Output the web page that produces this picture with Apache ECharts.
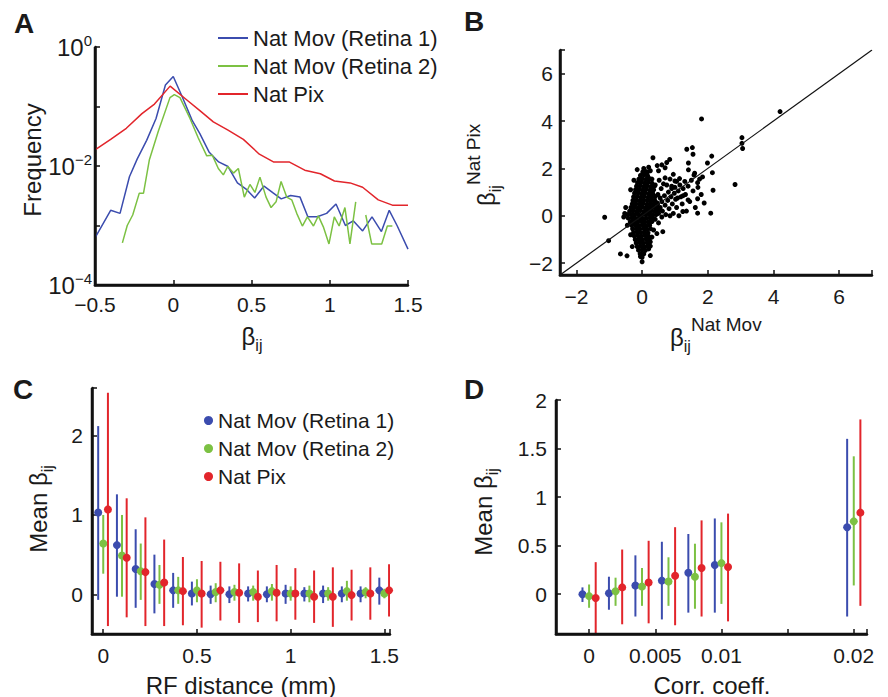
<!DOCTYPE html>
<html><head><meta charset="utf-8">
<script src="https://cdn.jsdelivr.net/npm/echarts@6/dist/echarts.min.js"></script>
<style>html,body{margin:0;padding:0;background:#fff}#c{width:888px;height:697px}</style>
</head><body><div id="c"></div>
<script>
// ---------- Panel A: histogram of beta_ij (log frequency) ----------
const aR1Beta = [-0.5,-0.40,-0.34,-0.28,-0.23,-0.17,-0.11,-0.05,0.0,0.06,0.12,0.17,0.23,0.29,0.35,0.41,0.47,0.52,0.58,0.64,0.69,0.75,0.81,0.86,0.92,0.98,1.04,1.10,1.15,1.21,1.27,1.33,1.38,1.43,1.5];
const aR1Freq = [6.2e-4,1.8e-3,1.6e-3,6.6e-3,1.32e-2,2.7e-2,6.3e-2,0.23,0.32,0.14,0.059,0.035,0.017,0.0117,0.0098,0.0052,0.0040,0.0029,0.0046,0.0035,0.0028,0.0032,0.0030,0.0014,0.0014,0.0016,0.0023,0.0010,0.0012,0.00081,0.0014,0.00079,0.0018,0.0010,0.00040];
const aR2Beta = [-0.325,-0.294,-0.259,-0.217,-0.19,-0.153,-0.096,-0.021,0.007,0.043,0.107,0.16,0.214,0.25,0.288,0.32,0.348,0.385,0.416,0.454,0.49,0.522,0.554,0.593,0.625,0.657,0.689,0.725,0.757,0.789,0.825,0.857,0.896,0.927,0.959,0.995,1.029,1.06,1.097,1.129,1.166,1.2,1.23,1.268,1.332,1.368,1.40];
const aR2Freq = [5.1e-4,1.0e-3,1.5e-3,3.5e-3,3.5e-3,0.0126,0.038,0.141,0.158,0.141,0.063,0.0295,0.0148,0.0151,0.0091,0.0071,0.0098,0.0076,0.0091,0.0030,0.0049,0.0036,0.0065,0.0030,0.0020,0.0025,0.0055,0.0030,0.0027,0.0016,0.00098,0.0014,0.00098,0.00145,0.00095,0.00049,0.0014,0.00098,0.0020,0.00049,0.0025,null,0.0015,0.00049,0.00049,0.00098,0.00098];
const aPixBeta = [-0.5,-0.4,-0.3,-0.2,-0.12,-0.02,0.085,0.17,0.256,0.35,0.448,0.55,0.64,0.74,0.84,0.94,1.03,1.13,1.21,1.31,1.40,1.5];
const aPixFreq = [0.0186,0.028,0.043,0.076,0.11,0.22,0.13,0.085,0.055,0.04,0.028,0.0158,0.0117,0.0117,0.0085,0.0074,0.0056,0.0052,0.0044,0.0027,0.0022,0.0022];
const aYLabelExponents = [-4,-2,0];

// ---------- Panel B: beta Nat Pix vs beta Nat Mov ----------
const bTicks = [-2,0,2,4,6];
const bIdentity = [-2.5,7];
const bPairs = [
[0.02,1.85],[0.12,1.86],[-0.05,1.7],[0.06,1.72],[0.17,1.68],
[-0.1,1.55],[0.01,1.56],[0.12,1.54],[0.23,1.57],
[-0.14,1.4],[-0.03,1.41],[0.08,1.39],[0.19,1.42],[0.3,1.38],
[-0.17,1.25],[-0.06,1.26],[0.05,1.24],[0.16,1.27],[0.27,1.23],[0.38,1.26],
[-0.2,1.1],[-0.09,1.11],[0.02,1.09],[0.13,1.12],[0.24,1.08],[0.35,1.1],
[-0.23,0.95],[-0.12,0.96],[-0.01,0.94],[0.1,0.97],[0.21,0.93],[0.32,0.95],
[-0.26,0.8],[-0.15,0.81],[-0.04,0.79],[0.07,0.82],[0.18,0.78],[0.29,0.8],[0.4,0.81],
[-0.28,0.65],[-0.17,0.66],[-0.06,0.64],[0.05,0.67],[0.16,0.63],[0.27,0.65],[0.38,0.66],
[-0.3,0.5],[-0.19,0.51],[-0.08,0.49],[0.03,0.52],[0.14,0.48],[0.25,0.5],[0.36,0.51],[0.47,0.49],
[-0.34,0.35],[-0.23,0.36],[-0.12,0.34],[-0.01,0.37],[0.1,0.33],[0.21,0.35],[0.32,0.36],[0.43,0.34],
[-0.38,0.2],[-0.27,0.21],[-0.16,0.19],[-0.05,0.22],[0.06,0.18],[0.17,0.2],[0.28,0.21],[0.39,0.19],[0.5,0.2],
[-0.45,0.05],[-0.34,0.06],[-0.23,0.04],[-0.12,0.07],[-0.01,0.03],[0.1,0.05],[0.21,0.06],[0.32,0.04],[0.43,0.05],
[-0.42,-0.1],[-0.31,-0.09],[-0.2,-0.11],[-0.09,-0.08],[0.02,-0.12],[0.13,-0.1],[0.24,-0.09],[0.35,-0.11],
[-0.36,-0.25],[-0.25,-0.24],[-0.14,-0.26],[-0.03,-0.23],[0.08,-0.27],[0.19,-0.25],[0.3,-0.24],
[-0.32,-0.4],[-0.21,-0.39],[-0.1,-0.41],[0.01,-0.38],[0.12,-0.42],[0.23,-0.4],
[-0.29,-0.55],[-0.18,-0.54],[-0.07,-0.56],[0.04,-0.53],[0.15,-0.57],[0.26,-0.55],
[-0.26,-0.7],[-0.15,-0.69],[-0.04,-0.71],[0.07,-0.68],[0.18,-0.72],
[-0.24,-0.85],[-0.13,-0.84],[-0.02,-0.86],[0.09,-0.83],[0.2,-0.87],
[-0.21,-1.0],[-0.1,-0.99],[0.01,-1.01],[0.12,-0.98],[0.22,-1.02],
[-0.18,-1.15],[-0.07,-1.14],[0.04,-1.16],[0.15,-1.13],
[-0.15,-1.3],[-0.04,-1.29],[0.07,-1.31],[0.17,-1.28],
[-0.11,-1.45],[0.0,-1.44],[0.1,-1.46],[-0.06,-1.6],[0.05,-1.61],[0.0,-1.75],
[0.5,0.1],[0.55,0.35],[0.6,0.6],[0.62,0.2],[0.68,0.85],[0.7,0.45],[0.72,0.05],[0.78,0.65],[0.8,1.0],[0.82,0.3],
[0.88,0.8],[0.9,1.15],[0.92,0.5],[0.95,0.1],[0.98,0.95],[1.0,1.2],[1.02,0.7],[1.05,0.35],[1.1,1.05],[1.12,0.0],
[1.15,1.3],[1.18,0.8],[1.22,0.5],[1.25,1.15],[1.3,1.45],[1.32,0.9],[1.35,0.2],[1.4,1.25],[1.45,0.6],[1.5,1.5],
[1.55,1.05],[1.6,1.8],[1.62,0.35],[1.7,1.2],[1.75,1.55],[1.8,0.9],[0.45,0.55],[0.48,0.9],[0.4,1.3],[0.52,1.5],
[0.58,1.15],[0.65,1.35],[0.7,1.6],[0.75,1.3],[0.85,1.55],[0.95,1.75],[1.05,1.45],[0.4,-0.15],[0.5,-0.3],[0.6,-0.05],
[0.85,0.0],[1.25,0.85],[0.35,0.85],[0.42,0.3],[0.55,0.75],[0.3,1.55],[0.25,1.9],[0.2,2.05],[0.5,1.9],[0.6,2.15],
[0.75,2.25],[0.3,-0.9],[0.35,-0.6],[0.45,-0.75],[0.2,-1.4],[0.25,-1.1],[-0.3,-1.3],[-0.35,-0.8],[-0.45,-0.4],[-0.5,0.35],
[-0.35,1.1],[-0.25,1.5],[-0.15,1.95],[0.05,2.0],[0.12,1.85],
[4.54,7.03],[1.81,4.09],[4.2,4.4],[3.04,3.3],[3.04,3.06],[3.06,2.84],[2.83,1.32],[-1.14,-0.06],[-1.02,-1.05],
[2.14,1.82],[2.12,2.52],[1.99,2.23],[2.16,1.08],[2.09,0.11],[1.89,0.54],[1.84,1.64],[1.69,1.4],[1.53,2.88],[1.55,2.6],
[1.36,2.81],[1.41,2.23],[1.41,1.94],[1.58,1.72],[1.69,0.72],[1.69,0.11],[1.24,0.18],[1.4,0.67],[1.08,0.75],[0.84,2.38],
[0.7,2.03],[1.14,1.57],[1.0,1.47],[0.9,1.25],[0.33,2.45],[0.46,2.12],[0.15,1.8],[0.63,-0.67],[0.25,-1.28],[0.0,-1.94],
[-0.05,-1.72],[-0.46,-1.69],[-0.66,-1.61],[0.25,-1.68],[-0.53,0.1],[-0.56,-0.05]
];

// ---------- Panel C: mean beta vs RF distance ----------
const cDist = [0,0.1,0.2,0.3,0.4,0.5,0.6,0.7,0.8,0.9,1.0,1.1,1.2,1.3,1.4,1.5];
const cR1Mean = [1.03,0.62,0.32,0.13,0.05,0.01,0.0,0.0,0.01,0.0,0.01,0.01,0.01,0.01,0.01,0.05];
const cR1Low  = [-0.07,-0.03,-0.17,-0.24,-0.17,-0.14,-0.12,-0.11,-0.09,-0.10,-0.12,-0.09,-0.11,-0.10,-0.10,-0.13];
const cR1High = [2.12,1.26,0.82,0.50,0.27,0.16,0.11,0.10,0.10,0.10,0.12,0.09,0.11,0.10,0.10,0.21];
const cR2Mean = [0.64,0.49,0.29,0.12,0.05,0.05,0.03,0.03,0.03,0.04,0.01,0.01,0.01,0.04,0.03,0.01];
const cR2Low  = [0.26,-0.03,-0.07,-0.12,-0.12,-0.10,-0.10,-0.08,-0.08,-0.08,-0.08,-0.10,-0.08,-0.08,-0.05,-0.05];
const cR2High = [1.0,1.0,0.64,0.37,0.22,0.19,0.14,0.12,0.11,0.13,0.10,0.11,0.09,0.17,0.09,0.07];
const cPixMean = [1.07,0.46,0.28,0.15,0.04,0.01,0.05,0.02,-0.03,0.02,0.01,-0.03,-0.03,-0.01,0.01,0.05];
const cPixLow  = [-0.40,-0.29,-0.40,-0.40,-0.39,-0.42,-0.33,-0.36,-0.35,-0.34,-0.32,-0.36,-0.41,-0.33,-0.32,-0.28];
const cPixHigh = [2.54,1.21,0.97,0.69,0.47,0.42,0.41,0.39,0.30,0.37,0.33,0.30,0.34,0.31,0.34,0.38];
const cXTicks = [0,0.5,1,1.5];
const cYTicks = [0,1,2];

// ---------- Panel D: mean beta vs correlation coefficient ----------
const dCorr = [0,0.002,0.004,0.006,0.008,0.01,0.02];
const dR1Mean = [0.0,0.01,0.09,0.14,0.22,0.30,0.69];
const dR1Low  = [-0.08,-0.16,-0.23,-0.26,-0.19,-0.19,-0.23];
const dR1High = [0.07,0.18,0.40,0.54,0.62,0.78,1.60];
const dR2Mean = [-0.02,0.03,0.08,0.13,0.18,0.32,0.75];
const dR2Low  = [-0.14,-0.12,-0.12,-0.12,-0.15,-0.10,0.09];
const dR2High = [0.10,0.17,0.27,0.38,0.52,0.74,1.42];
const dPixMean = [-0.04,0.07,0.12,0.19,0.27,0.28,0.84];
const dPixLow  = [-0.45,-0.31,-0.30,-0.32,-0.23,-0.28,-0.12];
const dPixHigh = [0.33,0.46,0.55,0.69,0.76,0.83,1.80];
const dXTicks = [0,0.005,0.01,0.02];

const seriesNames = ['Nat Mov (Retina 1)','Nat Mov (Retina 2)','Nat Pix'];

// ---------- styling ----------
const FONT = "'Liberation Sans', Arial, Helvetica, sans-serif";
const TXT = '#1a1a1a';
const BLUE = '#3b4cae', GREEN = '#7cc143', RED = '#e2252b';

const zip = (a, b) => a.map((v, i) => [v, b[i]]);
const fmtNum = v => String(+(+v).toPrecision(6)).replace('-', '\u2212');

function axis(o) {
  const a = {
    gridIndex: o.g, type: o.type || 'value', min: o.min, max: o.max,
    axisLine: {show: true, onZero: false, lineStyle: {color: '#111', width: 2.5}},
    axisTick: {show: true, inside: true, length: 5, lineStyle: {color: '#111', width: 1.5}},
    axisLabel: {show: true, color: TXT, fontSize: 21, fontFamily: FONT, margin: o.margin, formatter: o.fmt || fmtNum},
    splitLine: {show: false}
  };
  if (o.labels) a.axisLabel.customValues = o.labels;
  if (o.split) a.splitNumber = o.split;
  if (o.rich) a.axisLabel.rich = o.rich;
  if (o.hideMin) a.axisLabel.showMinLabel = false;
  if (o.type === 'log') a.logBase = 10;
  return a;
}

function errBars(name, xs, lows, highs, color, dx, idx) {
  return {
    type: 'custom', name: name + ' range', xAxisIndex: idx, yAxisIndex: idx, clip: true, silent: true, z: 2,
    data: xs.map((x, i) => [x + dx, lows[i], highs[i]]),
    encode: {x: 0, y: [1, 2]},
    renderItem: (params, api) => {
      const p1 = api.coord([api.value(0), api.value(1)]);
      const p2 = api.coord([api.value(0), api.value(2)]);
      return {type: 'line', shape: {x1: p1[0], y1: p1[1], x2: p2[0], y2: p2[1]}, style: {stroke: color, lineWidth: 2}};
    }
  };
}
function meanDots(name, xs, means, color, dx, idx) {
  return {type: 'scatter', name, xAxisIndex: idx, yAxisIndex: idx, symbol: 'circle', symbolSize: 8, z: 3,
          itemStyle: {color, opacity: 1}, data: xs.map((x, i) => [x + dx, means[i]])};
}

const RICH_G = {
  b: {fontSize: 24, fontFamily: FONT, fill: TXT, color: TXT},
  s: {fontSize: 16, fontFamily: FONT, fill: TXT, color: TXT, padding: [18, 0, 0, 0]},
  p: {fontSize: 19, fontFamily: FONT, fill: TXT, color: TXT, padding: [0, 0, 26, 0]}
};
function gtext(x, y, text, opts) {
  opts = opts || {};
  return {type: 'text', x, y, rotation: opts.rot || 0, silent: true,
    style: {text, rich: RICH_G, align: opts.align || 'center', verticalAlign: 'middle',
            fill: TXT, fontSize: opts.size || 24, fontFamily: FONT, fontWeight: opts.weight || 'normal'}};
}

const xAxes = [
  axis({g: 0, min: -0.5, max: 1.5, split: 4, margin: 9}),
  axis({g: 1, min: -2.5, max: 7, labels: bTicks, margin: 11}),
  axis({g: 2, min: -0.06, max: 1.53, labels: cXTicks, split: 3, margin: 11}),
  axis({g: 3, min: -0.0025, max: 0.021, labels: dXTicks, margin: 11})
];
const yAxes = [
  axis({g: 0, type: 'log', min: 1e-4, max: 1, margin: 3,
        fmt: v => {
          const e = Math.round(Math.log10(v));
          return aYLabelExponents.indexOf(e) < 0 ? '' : '{b|10}{e|' + String(e).replace('-', '\u2212') + '}';
        },
        rich: {b: {fontSize: 24, fontFamily: FONT, color: TXT}, e: {fontSize: 15, fontFamily: FONT, color: TXT, padding: [0, 0, 14, 0]}}}),
  axis({g: 1, min: -2.5, max: 7, labels: bTicks, margin: 7}),
  axis({g: 2, min: -0.5, max: 2.6, labels: cYTicks, split: 3, margin: 9}),
  axis({g: 3, min: -0.41, max: 2, split: 5, hideMin: true, margin: 9})
];

const option = {
  animation: false,
  grid: [
    {left: 95, top: 47, width: 313, height: 238, outerBoundsMode: 'none'},
    {left: 560, top: 50, width: 312, height: 225, outerBoundsMode: 'none'},
    {left: 92, top: 388, width: 298, height: 246, outerBoundsMode: 'none'},
    {left: 556, top: 400, width: 311, height: 234, outerBoundsMode: 'none'}
  ],
  xAxis: xAxes,
  yAxis: yAxes,
  legend: [
    {orient: 'vertical', left: 213, top: 22, itemWidth: 30, itemHeight: 2, itemGap: 6, selectedMode: false,
     textStyle: {fontSize: 22, fontFamily: FONT, color: TXT},
     data: seriesNames.map(n => ({name: n, icon: 'path://M0,0h30v2h-30z'}))},
    {orient: 'vertical', left: 199, top: 405, itemWidth: 9, itemHeight: 9, itemGap: 7, selectedMode: false,
     textStyle: {fontSize: 21, fontFamily: FONT, color: TXT},
     data: seriesNames.map(n => ({name: n, icon: 'circle'}))}
  ],
  series: [
    {type: 'line', name: seriesNames[0], xAxisIndex: 0, yAxisIndex: 0, symbol: 'none', connectNulls: false,
     lineStyle: {color: BLUE, width: 1.5}, itemStyle: {color: BLUE}, data: zip(aR1Beta, aR1Freq)},
    {type: 'line', name: seriesNames[1], xAxisIndex: 0, yAxisIndex: 0, symbol: 'none', connectNulls: false,
     lineStyle: {color: GREEN, width: 1.5}, itemStyle: {color: GREEN}, data: zip(aR2Beta, aR2Freq)},
    {type: 'line', name: seriesNames[2], xAxisIndex: 0, yAxisIndex: 0, symbol: 'none',
     lineStyle: {color: RED, width: 1.5}, itemStyle: {color: RED}, data: zip(aPixBeta, aPixFreq)},

    {type: 'scatter', name: 'beta pairs', xAxisIndex: 1, yAxisIndex: 1, symbolSize: 5,
     itemStyle: {color: '#000', opacity: 1}, data: bPairs},
    {type: 'line', name: 'identity', xAxisIndex: 1, yAxisIndex: 1, symbol: 'none', z: 3,
     lineStyle: {color: '#111', width: 1.2}, data: zip(bIdentity, bIdentity)},

    errBars(seriesNames[0], cDist, cR1Low, cR1High, BLUE, -0.027, 2),
    meanDots(seriesNames[0], cDist, cR1Mean, BLUE, -0.027, 2),
    errBars(seriesNames[1], cDist, cR2Low, cR2High, GREEN, 0, 2),
    meanDots(seriesNames[1], cDist, cR2Mean, GREEN, 0, 2),
    errBars(seriesNames[2], cDist, cPixLow, cPixHigh, RED, 0.025, 2),
    meanDots(seriesNames[2], cDist, cPixMean, RED, 0.025, 2),

    errBars(seriesNames[0], dCorr, dR1Low, dR1High, BLUE, -0.0005, 3),
    meanDots(seriesNames[0], dCorr, dR1Mean, BLUE, -0.0005, 3),
    errBars(seriesNames[1], dCorr, dR2Low, dR2High, GREEN, 0, 3),
    meanDots(seriesNames[1], dCorr, dR2Mean, GREEN, 0, 3),
    errBars(seriesNames[2], dCorr, dPixLow, dPixHigh, RED, 0.0005, 3),
    meanDots(seriesNames[2], dCorr, dPixMean, RED, 0.0005, 3)
  ],
  graphic: [
    gtext(24, 23, 'A', {size: 28, weight: 'bold'}),
    gtext(474, 21, 'B', {size: 28, weight: 'bold'}),
    gtext(23, 389, 'C', {size: 28, weight: 'bold'}),
    gtext(474, 389, 'D', {size: 28, weight: 'bold'}),
    gtext(32, 160, 'Frequency', {rot: Math.PI / 2}),
    gtext(252, 336, '{b|\u03b2}{s|ij}'),
    gtext(670, 337, '{b|\u03b2}{s|ij}{p|Nat Mov}', {align: 'left'}),
    gtext(486, 206, '{b|\u03b2}{s|ij}{p|Nat Pix}', {rot: Math.PI / 2, align: 'left'}),
    gtext(38, 509, 'Mean {b|\u03b2}{s|ij}', {rot: Math.PI / 2}),
    gtext(483, 512, 'Mean {b|\u03b2}{s|ij}', {rot: Math.PI / 2}),
    gtext(241, 685, 'RF distance (mm)'),
    gtext(712, 685, 'Corr. coeff.')
  ]
};

const chart = echarts.init(document.getElementById('c'), null, {renderer: 'svg', width: 888, height: 697});
chart.setOption(option);

// Reinforce the L-shaped axis frame of each panel, placed through the library's own axis scales.
try {
  const frame = [];
  for (let g = 0; g < 4; g++) {
    const xa = xAxes[g], ya = yAxes[g];
    const corner = chart.convertToPixel({gridIndex: g}, [xa.min, ya.min]);
    const topLeft = chart.convertToPixel({gridIndex: g}, [xa.min, ya.max]);
    const right = chart.convertToPixel({gridIndex: g}, [xa.max, ya.min]);
    if ([corner, topLeft, right].every(p => p && isFinite(p[0]) && isFinite(p[1]))) {
      frame.push({type: 'polyline', silent: true, z: 50,
        shape: {points: [[topLeft[0], topLeft[1]], [corner[0], corner[1]], [right[0], right[1]]]},
        style: {stroke: '#111', lineWidth: 2.5, fill: null, lineJoin: 'miter'}});
    }
  }
  if (frame.length) chart.setOption({graphic: option.graphic.concat(frame)});
} catch (e) { /* keep chart as drawn */ }
</script>
</body></html>
